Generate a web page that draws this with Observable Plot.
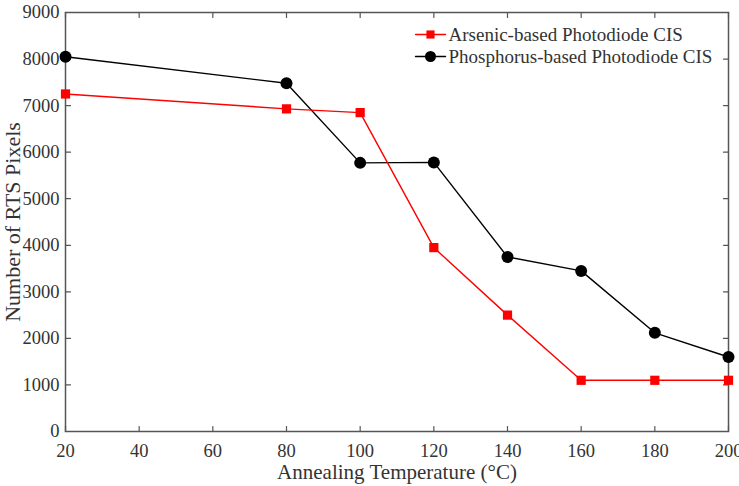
<!DOCTYPE html>
<html>
<head>
<meta charset="utf-8">
<script src="https://cdn.jsdelivr.net/npm/d3@7"></script>
<script src="https://cdn.jsdelivr.net/npm/@observablehq/plot@0.6"></script>
<style>
  html, body { margin: 0; padding: 0; background: #fff; }
  #chart svg { display: block; }
</style>
</head>
<body>
<div id="chart"></div>
<script>
// Number of RTS pixels after annealing, per photodiode type
const temperatures = [20, 80, 100, 120, 140, 160, 180, 200];
const arsenic = [7250, 6930, 6850, 3950, 2500, 1100, 1100, 1100];
const phosphorus = [8050, 7480, 5770, 5780, 3750, 3450, 2120, 1600];
const seriesNames = ["Arsenic-based Photodiode CIS", "Phosphorus-based Photodiode CIS"];
const xTicks = [20, 40, 60, 80, 100, 120, 140, 160, 180, 200];
const yTicks = [0, 1000, 2000, 3000, 4000, 5000, 6000, 7000, 8000, 9000];
const xLabel = "Annealing Temperature (°C)";
const yLabel = "Number of RTS Pixels";

const arsenicRows = temperatures.map((t, i) => ({t, v: arsenic[i]}));
const phosphorusRows = temperatures.map((t, i) => ({t, v: phosphorus[i]}));

const font = "'Liberation Serif', 'Times New Roman', serif";
const textColor = "#333";
const frameColor = "#555";
const red = "#ff0000";

// a straight stroke used for inward ticks and legend samples
const stroke = {draw(context, l) { context.moveTo(0, 0); context.lineTo(0, -l); }};
const tickOpts = {length: 5, anchor: "start", shape: stroke, stroke: frameColor, strokeWidth: 1.2};

// one legend entry: a short line with its marker, then the series name
function legendEntry(name, color, symbol, r, dy) {
  const at = {frameAnchor: "top-right", dx: -298, dy};
  return [
    Plot.vector([name], {...at, rotate: 90, length: 30, anchor: "middle", shape: stroke, stroke: color, strokeWidth: 1.4}),
    Plot.dot([name], {...at, symbol, r, fill: color, stroke: "none"}),
    Plot.text([name], {text: d => d, frameAnchor: "top-right", dx: -280, dy, textAnchor: "start", lineAnchor: "middle", fontSize: 19, fill: textColor})
  ];
}

const chart = Plot.plot({
  width: 739,
  height: 486,
  marginLeft: 65,
  marginRight: 11,
  marginTop: 12,
  marginBottom: 55,
  style: {fontFamily: font, background: "#fff", overflow: "visible"},
  x: {domain: [20, 200]},
  y: {domain: [0, 9000]},
  marks: [
    // tick labels
    Plot.axisX({ticks: xTicks, tickSize: 0, tickPadding: 12, tickFormat: d => String(d), label: null, fontSize: 18.5, fill: textColor}),
    Plot.axisY({ticks: yTicks, tickSize: 0, tickPadding: 6, tickFormat: d => String(d), label: null, fontSize: 18.5, fill: textColor}),
    // inward ticks on all four sides
    Plot.vector(xTicks, {x: d => d, frameAnchor: "bottom", rotate: 0, ...tickOpts}),
    Plot.vector(xTicks, {x: d => d, frameAnchor: "top", rotate: 180, ...tickOpts}),
    Plot.vector(yTicks, {y: d => d, frameAnchor: "left", rotate: 90, ...tickOpts}),
    Plot.vector(yTicks, {y: d => d, frameAnchor: "right", rotate: -90, ...tickOpts}),
    Plot.frame({stroke: frameColor, strokeWidth: 1.5}),
    // axis titles
    Plot.text([xLabel], {text: d => d, frameAnchor: "bottom", dy: 47, fontSize: 21, fill: textColor}),
    Plot.text([yLabel], {text: d => d, frameAnchor: "left", textAnchor: "middle", dx: -53, rotate: -90, fontSize: 22, fill: textColor}),
    // series
    Plot.line(phosphorusRows, {x: "t", y: "v", stroke: "#000", strokeWidth: 1.4}),
    Plot.line(arsenicRows, {x: "t", y: "v", stroke: red, strokeWidth: 1.4}),
    Plot.dot(arsenicRows, {x: "t", y: "v", symbol: "square", r: 5.2, fill: red, stroke: "none"}),
    Plot.dot(phosphorusRows, {x: "t", y: "v", symbol: "circle", r: 6, fill: "#000", stroke: "none"}),
    // legend
    ...legendEntry(seriesNames[0], red, "square", 4.6, 22),
    ...legendEntry(seriesNames[1], "#000", "circle", 5.5, 44)
  ]
});

document.getElementById("chart").appendChild(chart);
</script>
</body>
</html>
